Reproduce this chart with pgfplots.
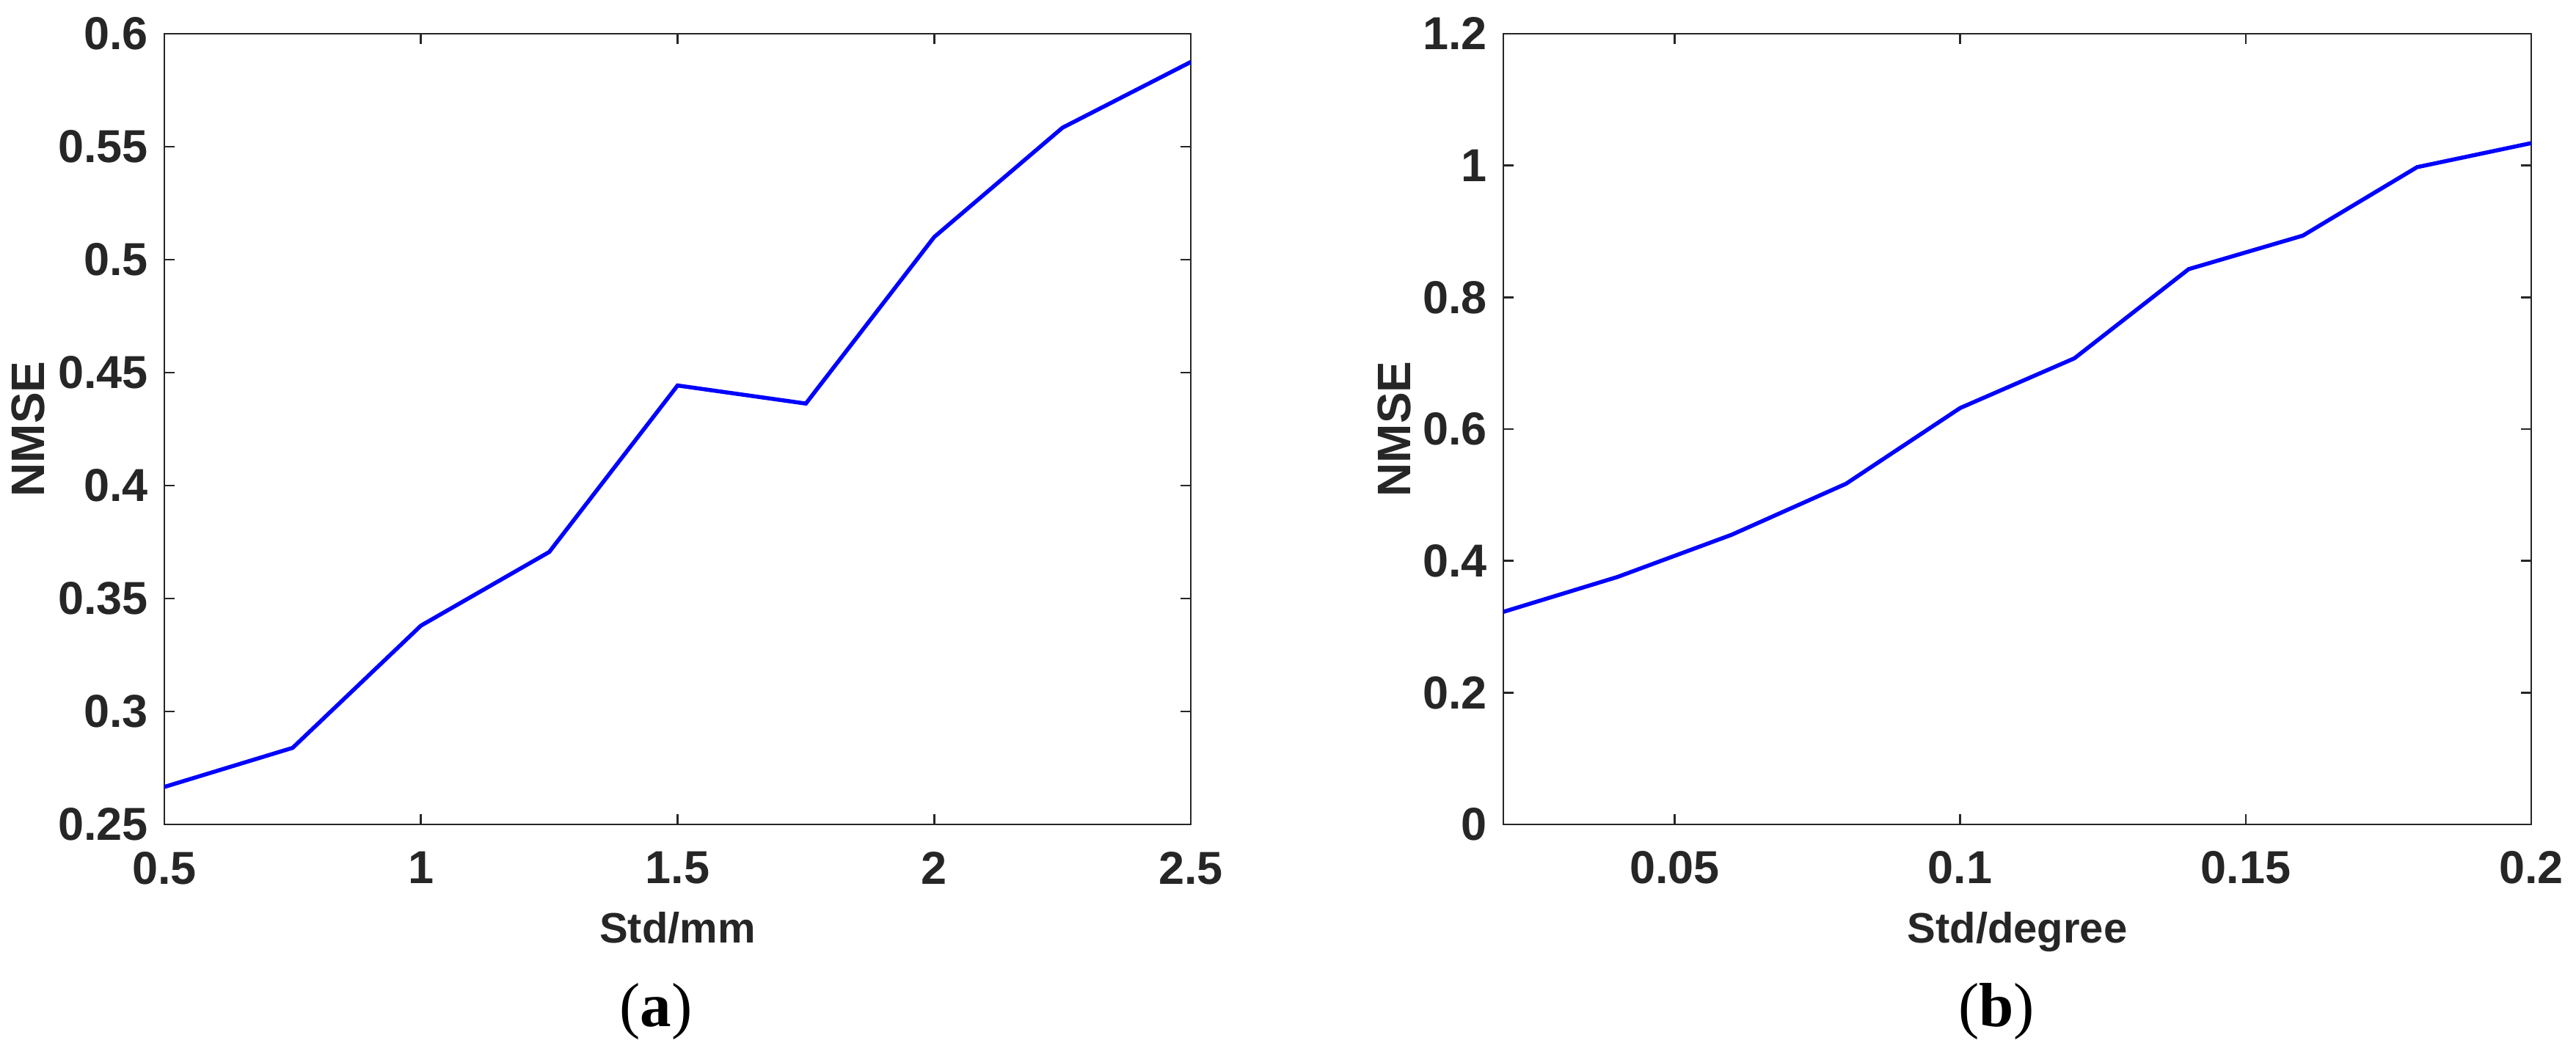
\documentclass[border=0pt]{standalone}
\usepackage{fontspec}
\setmainfont{Liberation Sans}
\newfontfamily\capfont{Liberation Serif}
\usepackage{pgfplots}
\pgfplotsset{compat=1.18}
\definecolor{axgray}{RGB}{38,38,38}

\pgfplotsset{
  matfig/.style={
    scale only axis,
    width=279.8pt, height=215.6pt,
    anchor=south west,
    axis line style={axgray, line width=0.53pt},
    every tick/.style={axgray, line width=0.53pt},
    major tick length=2.8pt,
    tick align=inside,
    scaled ticks=false,
    /pgf/number format/fixed,
    /pgf/number format/precision=2,
    /pgf/number format/assume math mode=true,
    tick label style={font=\fontsize{12.6}{14}\selectfont\bfseries, text=axgray, inner sep=0pt},
    xticklabel style={anchor=north, yshift=-7.2pt},
    yticklabel style={anchor=east, xshift=-4.2pt},
    xlabel style={font=\fontsize{11.6}{13}\selectfont\bfseries, text=axgray, inner sep=0pt,
      at={(axis description cs:0.5,0)}, anchor=base, yshift=-32.2pt},
    ylabel style={font=\fontsize{12.8}{14}\selectfont\bfseries, text=axgray, inner sep=0pt,
      anchor=base},
  },
  nmse/.style={blue, line width=1.1pt, mark=none},
}

\begin{document}
\begin{tikzpicture}
\useasboundingbox (0,0) rectangle (702.2pt,287.2pt);

% (a) position error
\begin{axis}[
  matfig,
  at={(44.8pt,62.4pt)},
  xmin=0.5, xmax=2.5, ymin=0.25, ymax=0.6,
  xtick={0.5,1,1.5,2,2.5},
  ytick={0.25,0.3,0.35,0.4,0.45,0.5,0.55,0.6},
  xlabel={Std/mm},
  ylabel={NMSE},
  ylabel style={at={([xshift=-32.6pt]axis description cs:0,0.5)}},
]
\addplot[nmse] coordinates {
  (0.5,0.2666) (0.75,0.2839) (1.0,0.338) (1.25,0.3706) (1.5,0.4443)
  (1.75,0.4363) (2.0,0.510) (2.25,0.5584) (2.5,0.5875)
};
\end{axis}

% (b) angle error
\begin{axis}[
  matfig,
  at={(409.8pt,62.4pt)},
  width=280.2pt,
  xmin=0.02, xmax=0.2, ymin=0, ymax=1.2,
  xtick={0.05,0.1,0.15,0.2},
  ytick={0,0.2,0.4,0.6,0.8,1,1.2},
  xlabel={Std/degree},
  ylabel={NMSE},
  ylabel style={at={([xshift=-25.4pt]axis description cs:0,0.5)}},
]
\addplot[nmse] coordinates {
  (0.02,0.3226) (0.04,0.3756) (0.06,0.4397) (0.08,0.517) (0.10,0.632)
  (0.12,0.7074) (0.14,0.8427) (0.16,0.8936) (0.18,0.9975) (0.20,1.034)
};
\end{axis}

\node[anchor=base, inner sep=0pt, font=\capfont\fontsize{17}{20}\selectfont] at (178.8pt,7.4pt) {(\textbf{a})};
\node[anchor=base, inner sep=0pt, font=\capfont\fontsize{17}{20}\selectfont] at (544.2pt,7.4pt) {(\textbf{b})};
\end{tikzpicture}
\end{document}
